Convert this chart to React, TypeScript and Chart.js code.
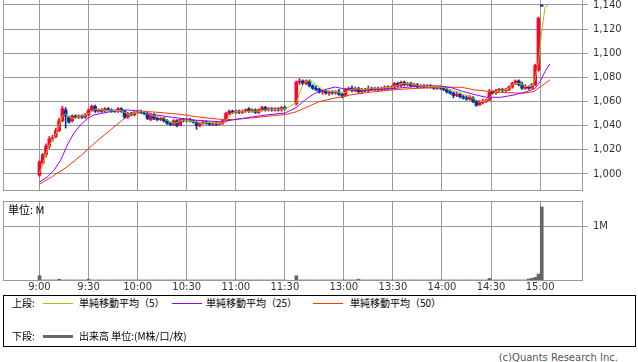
import React, { useEffect, useRef } from "react";
import { Chart, registerables } from "chart.js";

Chart.register(...registerables);

// ---- Axis data ----
// x value = minutes since 9:00 (afternoon session 12:30 placed at 156)
const tickPositions = [0, 30, 60, 90, 120, 150, 186, 216, 246, 276, 306];
const tickLabels = ["9:00", "9:30", "10:00", "10:30", "11:00", "11:30", "13:00", "13:30", "14:00", "14:30", "15:00"];
const priceTicks = [1000, 1020, 1040, 1060, 1080, 1100, 1120, 1140];
const volumeTicks = [1];

// ---- Candles (2-minute steps), morning 9:00-11:30 ----
const amOpen = [
  999, 1009, 1016, 1023, 1029, 1031, 1036, 1044, 1053, 1047,
  1044, 1048, 1047, 1048, 1047, 1049, 1053, 1056, 1052, 1053,
  1052, 1054, 1053, 1052, 1052, 1054, 1052, 1047, 1050, 1049,
  1051, 1052, 1051, 1050, 1045, 1049, 1046, 1045, 1046, 1044,
  1042, 1041, 1044, 1040, 1045, 1044, 1045, 1044, 1043, 1040,
  1042, 1043, 1042, 1041, 1042, 1041, 1042, 1044, 1050, 1052,
  1051, 1052, 1051, 1052, 1054, 1052, 1053, 1051, 1053, 1055,
  1053, 1054, 1053, 1054, 1053, 1055,
];
const amClose = [
  1010, 1016, 1023, 1029, 1030, 1036, 1044, 1054, 1048, 1043,
  1048, 1047, 1048, 1047, 1049, 1053, 1056, 1052, 1053, 1052,
  1054, 1053, 1052, 1052, 1054, 1052, 1047, 1050, 1049, 1051,
  1052, 1051, 1050, 1046, 1049, 1046, 1045, 1046, 1044, 1042,
  1041, 1044, 1040, 1045, 1044, 1045, 1044, 1043, 1040, 1042,
  1043, 1042, 1041, 1042, 1041, 1042, 1044, 1050, 1052, 1051,
  1052, 1051, 1052, 1053, 1052, 1053, 1051, 1053, 1055, 1053,
  1054, 1053, 1054, 1053, 1055, 1054,
];
const amHigh = [
  1011, 1017, 1025, 1031, 1032, 1038, 1046, 1056, 1055, 1048,
  1049, 1049, 1049, 1049, 1050, 1054, 1057, 1057, 1054, 1054,
  1055, 1055, 1054, 1053, 1055, 1055, 1053, 1051, 1051, 1052,
  1053, 1053, 1052, 1051, 1050, 1050, 1047, 1047, 1047, 1045,
  1043, 1045, 1045, 1046, 1046, 1046, 1046, 1045, 1044, 1043,
  1044, 1044, 1043, 1043, 1043, 1043, 1045, 1051, 1053, 1053,
  1053, 1053, 1053, 1054, 1055, 1054, 1054, 1054, 1056, 1056,
  1055, 1055, 1055, 1055, 1056, 1056,
];
const amLow = [
  998, 1008, 1014, 1021, 1027, 1030, 1035, 1043, 1038, 1042,
  1043, 1046, 1046, 1046, 1046, 1048, 1052, 1051, 1051, 1051,
  1051, 1052, 1051, 1051, 1051, 1051, 1046, 1046, 1048, 1048,
  1050, 1050, 1049, 1045, 1044, 1045, 1044, 1044, 1043, 1041,
  1040, 1040, 1039, 1040, 1043, 1043, 1043, 1042, 1037, 1039,
  1041, 1041, 1040, 1040, 1040, 1041, 1041, 1043, 1049, 1050,
  1050, 1050, 1050, 1051, 1051, 1051, 1050, 1050, 1052, 1052,
  1052, 1052, 1052, 1052, 1052, 1053,
];

// ---- Candles, afternoon 12:30-15:00 ----
const pmOpen = [
  1058, 1076, 1077, 1075, 1077, 1073, 1071, 1070, 1068, 1069,
  1067, 1068, 1067, 1068, 1066, 1065, 1070, 1071, 1069, 1071,
  1068, 1070, 1069, 1071, 1070, 1071, 1070, 1071, 1072, 1071,
  1072, 1075, 1073, 1076, 1074, 1075, 1073, 1074, 1072, 1073,
  1072, 1073, 1072, 1071, 1072, 1071, 1070, 1068, 1067, 1065,
  1066, 1064, 1063, 1062, 1063, 1060, 1057, 1059, 1060, 1061,
  1068, 1067, 1069, 1070, 1069, 1070, 1072, 1075, 1077, 1074,
  1071, 1072, 1071, 1074, 1086, 1139,
];
const pmClose = [
  1076, 1077, 1075, 1077, 1073, 1071, 1070, 1068, 1069, 1067,
  1068, 1067, 1068, 1066, 1065, 1070, 1071, 1069, 1071, 1068,
  1070, 1069, 1071, 1070, 1071, 1070, 1071, 1072, 1071, 1072,
  1075, 1073, 1076, 1074, 1075, 1073, 1074, 1072, 1073, 1072,
  1073, 1072, 1071, 1072, 1071, 1070, 1068, 1067, 1065, 1066,
  1064, 1063, 1062, 1064, 1060, 1057, 1059, 1060, 1061, 1068,
  1067, 1069, 1070, 1069, 1070, 1072, 1075, 1077, 1074, 1071,
  1072, 1071, 1074, 1090, 1129, 1139,
];
const pmHigh = [
  1077, 1079, 1078, 1078, 1078, 1074, 1073, 1071, 1070, 1070,
  1069, 1069, 1069, 1070, 1067, 1071, 1072, 1073, 1072, 1072,
  1071, 1071, 1073, 1072, 1072, 1072, 1072, 1073, 1073, 1073,
  1076, 1076, 1077, 1077, 1076, 1076, 1075, 1075, 1074, 1074,
  1074, 1074, 1073, 1073, 1073, 1072, 1071, 1069, 1068, 1068,
  1067, 1065, 1065, 1065, 1064, 1061, 1061, 1062, 1062, 1070,
  1069, 1070, 1071, 1071, 1071, 1073, 1076, 1078, 1078, 1076,
  1074, 1073, 1075, 1091, 1130, 1140,
];
const pmLow = [
  1057, 1074, 1074, 1074, 1072, 1070, 1069, 1067, 1066, 1066,
  1065, 1066, 1066, 1065, 1063, 1064, 1069, 1068, 1068, 1067,
  1067, 1068, 1068, 1069, 1069, 1069, 1069, 1070, 1070, 1070,
  1071, 1072, 1072, 1073, 1073, 1072, 1072, 1071, 1071, 1071,
  1071, 1071, 1070, 1070, 1070, 1069, 1067, 1066, 1063, 1064,
  1063, 1062, 1061, 1061, 1059, 1056, 1057, 1058, 1059, 1061,
  1066, 1066, 1068, 1068, 1068, 1069, 1071, 1074, 1073, 1070,
  1070, 1070, 1071, 1073, 1085, 1139,
];

// ---- Volume (millions), aligned with candles ----
const amVolume = [
  0.08, 0, 0, 0, 0, 0, 0.015, 0, 0, 0,
  0, 0, 0, 0, 0, 0.015, 0, 0, 0, 0,
  0, 0, 0, 0, 0, 0, 0, 0, 0, 0,
  0, 0, 0, 0, 0, 0, 0, 0, 0, 0,
  0, 0, 0, 0, 0, 0, 0, 0, 0, 0,
  0, 0, 0, 0, 0, 0, 0, 0, 0, 0,
  0, 0, 0, 0, 0, 0, 0, 0, 0, 0,
  0, 0, 0, 0, 0, 0,
];
const pmVolume = [
  0.08, 0, 0, 0, 0, 0, 0, 0, 0, 0,
  0, 0, 0, 0, 0, 0, 0, 0, 0, 0.015,
  0, 0, 0, 0, 0, 0, 0, 0, 0, 0,
  0, 0, 0, 0, 0, 0, 0, 0, 0, 0,
  0, 0, 0, 0, 0, 0, 0, 0, 0, 0,
  0, 0, 0, 0, 0, 0, 0, 0, 0, 0.03,
  0, 0, 0, 0, 0, 0, 0, 0, 0, 0,
  0, 0.02, 0.03, 0.05, 0.11, 1.36,
];

// ---- Moving averages ----
const ma5Am = [
  1000.8, 1008, 1017, 1024, 1028, 1033, 1040, 1048, 1049.5, 1047,
  1046, 1046.5, 1047.5, 1048, 1048.5, 1050, 1052, 1053.5, 1053.5, 1053,
  1052.5, 1052.5, 1053, 1052.5, 1052.5, 1052.5, 1051, 1049.5, 1049.5, 1050.5,
  1051.5, 1051.5, 1051.5, 1050, 1049, 1048, 1047.5, 1047, 1046, 1044.5,
  1043, 1042, 1042.5, 1044, 1044.5, 1044.5, 1044, 1043.5, 1043, 1042,
  1042, 1042.5, 1042.5, 1042, 1042, 1042, 1042.5, 1044.5, 1048, 1050.5,
  1051.5, 1051.5, 1051.5, 1051.5, 1052, 1052, 1052, 1052, 1052.5, 1053,
  1053, 1053.5, 1053.5, 1053.5, 1053.5, 1054,
];
const ma5Pm = [
  1059, 1067, 1074, 1077, 1077, 1076, 1074, 1072, 1070, 1069,
  1068.5, 1068, 1068, 1067.5, 1067, 1067.5, 1069, 1070, 1070.5, 1070.5,
  1070, 1070, 1070.5, 1071, 1071, 1071, 1071, 1071.5, 1071.5, 1071.5,
  1072.5, 1073.5, 1074.5, 1075, 1075, 1074.5, 1074, 1073.5, 1073, 1073,
  1072.5, 1072.5, 1072.5, 1072, 1072, 1071.5, 1070.5, 1070, 1069, 1068,
  1067, 1066, 1065, 1064, 1062.5, 1061.3, 1060.5, 1060, 1060.5, 1063,
  1066, 1068, 1069, 1069.5, 1069.5, 1071, 1073.5, 1075, 1075, 1074,
  1072.5, 1072.5, 1073, 1079, 1093, 1118, 1138, 1140,
];
const ma25Times = [0, 5, 9, 13, 17, 21, 25, 29, 33, 38, 46, 54, 58, 63, 69, 78, 86, 94, 102, 110, 118, 127, 139, 150, 157, 162, 168, 176, 181, 186, 192, 202, 212, 222, 233, 243, 251, 259, 267, 273, 282, 290, 298, 303, 306, 309, 312];
const ma25Values = [993.3, 997.7, 1003.3, 1011.6, 1024, 1033.7, 1040.6, 1045.5, 1048.8, 1050.2, 1052.2, 1053, 1052.5, 1051.6, 1049.4, 1047.5, 1046.1, 1044.7, 1043.9, 1043.3, 1044.7, 1046.6, 1048.9, 1050.5, 1055, 1061, 1066.6, 1070.5, 1072, 1070.5, 1069.4, 1069.6, 1070.2, 1071.5, 1072.9, 1072.9, 1071.8, 1068.2, 1065.4, 1063.5, 1063.5, 1065.4, 1068.2, 1071, 1076.5, 1084.8, 1091.2];
const ma50Times = [0, 8, 17, 26, 35, 43, 50, 56, 62, 73, 86, 98, 110, 118, 131, 143, 150, 157, 165, 171, 180, 190, 200, 215, 231, 245, 258, 266, 272, 284, 296, 302, 307, 312];
const ma50Values = [991.5, 998, 1006, 1016, 1027, 1036, 1044, 1050, 1052, 1051, 1049.4, 1047, 1045.3, 1045, 1046.6, 1048.3, 1049.2, 1051.5, 1056.3, 1059.9, 1062.7, 1065.4, 1067.4, 1069.6, 1071, 1071.8, 1071.8, 1069.6, 1068.8, 1067.4, 1066.9, 1068.2, 1072.9, 1078];

// ---- Styles ----
const GRID = "#999999";
const UP = "#ff0033";
const DOWN = "#003399";
const MA5C = "#99cc00";
const MA25C = "#9900ff";
const MA50C = "#ff3300";
const VOLC = "#666666";
const TEXTC = "#333333";
const X_MIN = -22.3;
const X_MAX = 331.6;
const AXIS_FONT = { family: "DejaVu Sans", size: 10 };
const CJK = "'Noto Sans CJK JP', 'Noto Sans', sans-serif";

const framePlugin = {
  id: "frame",
  beforeDatasetsDraw(chart: any, _args: any, opts: any) {
    const { ctx, chartArea: a } = chart;
    ctx.save();
    ctx.strokeStyle = GRID;
    ctx.lineWidth = 1;
    ctx.beginPath();
    const l = Math.round(a.left) + 0.5;
    const t = Math.round(a.top) + 0.5;
    if (opts.left) {
      ctx.moveTo(l, a.top);
      ctx.lineTo(l, a.bottom);
    }
    if (opts.top) {
      ctx.moveTo(a.left, t);
      ctx.lineTo(a.right, t);
    }
    ctx.stroke();
    ctx.restore();
  },
};

function xScale(showLabels: boolean, height: number) {
  return {
    type: "linear",
    min: X_MIN,
    max: X_MAX,
    offset: false,
    afterBuildTicks: (s: any) => {
      s.ticks = tickPositions.map((v) => ({ value: v }));
    },
    ticks: {
      display: showLabels,
      autoSkip: false,
      maxRotation: 0,
      padding: 1,
      font: AXIS_FONT,
      color: TEXTC,
      callback: (v: any) => {
        const i = tickPositions.indexOf(Number(v));
        return i >= 0 ? tickLabels[i] : "";
      },
    },
    grid: { color: GRID, drawTicks: false, offset: false },
    border: { color: GRID },
    afterFit: (s: any) => {
      s.height = height;
      s.paddingLeft = 0;
      s.paddingRight = 0;
    },
  };
}

export default function App() {
  const priceRef = useRef<HTMLCanvasElement>(null);
  const volRef = useRef<HTMLCanvasElement>(null);

  useEffect(() => {
    document.body.style.margin = "0";
    const amTimes = amOpen.map((_, i) => i * 2);
    const pmTimes = pmOpen.map((_, i) => 157 + i * 2);
    const times = [...amTimes, ...pmTimes];
    const open = [...amOpen, ...pmOpen];
    const close = [...amClose, ...pmClose];
    const high = [...amHigh, ...pmHigh];
    const low = [...amLow, ...pmLow];
    const vol = [...amVolume, ...pmVolume];
    const colors = times.map((_, i) => (close[i] > open[i] ? UP : DOWN));
    const ma5Times = [...amTimes, ...ma5Pm.map((_, i) => 157 + i * 2)];
    const ma5 = [...ma5Am, ...ma5Pm];

    const lineDs = (label: string, xs: number[], ys: number[], color: string) => ({
      type: "line",
      label,
      data: xs.map((x, i) => ({ x, y: ys[i] })),
      borderColor: color,
      borderWidth: 1,
      pointRadius: 0,
      pointHoverRadius: 0,
      tension: 0,
      fill: false,
    });

    const price = new Chart(priceRef.current as HTMLCanvasElement, {
      type: "bar",
      data: {
        datasets: [
          lineDs("MA5", ma5Times, ma5, MA5C),
          lineDs("MA25", ma25Times, ma25Values, MA25C),
          lineDs("MA50", ma50Times, ma50Values, MA50C),
          {
            type: "bar",
            label: "body",
            data: times.map((x, i) => ({ x, y: [open[i], close[i]] })),
            backgroundColor: colors,
            borderWidth: 0,
            barThickness: 3,
            minBarLength: 1,
            grouped: false,
          },
          {
            type: "bar",
            label: "wick",
            data: times.map((x, i) => ({ x, y: [low[i], high[i]] })),
            backgroundColor: colors,
            borderWidth: 0,
            barThickness: 1,
            grouped: false,
          },
        ] as any,
      },
      options: {
        responsive: false,
        animation: false,
        devicePixelRatio: 1,
        events: [],
        layout: { padding: { left: 3, top: 0, right: 0, bottom: 0 } },
        plugins: {
          legend: { display: false },
          tooltip: { enabled: false },
          frame: { left: true, top: false },
        } as any,
        scales: {
          x: xScale(false, 5) as any,
          y: {
            position: "right",
            min: 986.7,
            max: 1144.1,
            afterBuildTicks: (s: any) => {
              s.ticks = priceTicks.map((v) => ({ value: v }));
            },
            ticks: {
              font: AXIS_FONT,
              color: TEXTC,
              padding: 5,
              callback: (v: any) => Number(v).toLocaleString("en-US"),
            },
            grid: { color: GRID, tickLength: 6 },
            border: { color: GRID },
            afterFit: (s: any) => {
              s.width = 56;
              s.paddingTop = 0;
              s.paddingBottom = 0;
            },
          } as any,
        },
      },
      plugins: [framePlugin as any],
    });

    const volume = new Chart(volRef.current as HTMLCanvasElement, {
      type: "bar",
      data: {
        datasets: [
          {
            label: "volume",
            data: times.map((x, i) => ({ x, y: vol[i] })),
            backgroundColor: VOLC,
            borderWidth: 0,
            barThickness: 3,
            grouped: false,
          },
        ] as any,
      },
      options: {
        responsive: false,
        animation: false,
        devicePixelRatio: 1,
        events: [],
        layout: { padding: { left: 3, top: 6, right: 0, bottom: 0 } },
        plugins: {
          legend: { display: false },
          tooltip: { enabled: false },
          frame: { left: true, top: true },
        } as any,
        scales: {
          x: xScale(true, 15) as any,
          y: {
            position: "right",
            min: 0,
            max: 1.471,
            afterBuildTicks: (s: any) => {
              s.ticks = volumeTicks.map((v) => ({ value: v }));
            },
            ticks: {
              font: AXIS_FONT,
              color: TEXTC,
              padding: 5,
              callback: (v: any) => `${v}M`,
            },
            grid: { color: GRID, tickLength: 6 },
            border: { color: GRID },
            afterFit: (s: any) => {
              s.width = 56;
              s.paddingTop = 0;
              s.paddingBottom = 0;
            },
          } as any,
        },
      },
      plugins: [framePlugin as any],
    });

    return () => {
      price.destroy();
      volume.destroy();
    };
  }, []);

  const txt = (left: number, cy: number, s: string, size = 10, extra: any = {}) => (
    <div
      style={{
        position: "absolute",
        left,
        top: cy - 7,
        height: 14,
        lineHeight: "14px",
        fontSize: size,
        fontFamily: CJK,
        color: "#000",
        whiteSpace: "nowrap",
        ...extra,
      }}
    >
      {s}
    </div>
  );
  const swatch = (left: number, cy: number, color: string, h = 1) => (
    <div style={{ position: "absolute", left, top: cy - Math.floor(h / 2), width: 30, height: h, background: color }} />
  );

  return (
    <div style={{ position: "relative", width: 638, height: 362, background: "#fff", overflow: "hidden" }}>
      <canvas ref={priceRef} width={638} height={195} style={{ position: "absolute", left: 0, top: 0 }} />
      <canvas ref={volRef} width={638} height={100} style={{ position: "absolute", left: 0, top: 195 }} />
      {txt(8, 209, "単位: M", 11)}
      <div
        style={{
          position: "absolute",
          left: 3,
          top: 295,
          width: 633,
          height: 52,
          boxSizing: "border-box",
          border: "1px solid #000",
        }}
      />
      {txt(12, 303, "上段:")}
      {swatch(43, 303, MA5C)}
      {txt(79, 303, "単純移動平均（5）")}
      {swatch(172, 303, MA25C)}
      {txt(206, 303, "単純移動平均（25）")}
      {swatch(313, 303, MA50C)}
      {txt(350, 303, "単純移動平均（50）")}
      {txt(12, 336, "下段:")}
      {swatch(43, 336, VOLC, 3)}
      {txt(79, 336, "出来高 単位:(M株/口/枚)")}
      <div
        style={{
          position: "absolute",
          right: 20,
          top: 351,
          lineHeight: "14px",
          fontSize: 10,
          fontFamily: "'DejaVu Sans', sans-serif",
          color: "#555",
          whiteSpace: "nowrap",
        }}
      >
        (c)Quants Research Inc.
      </div>
    </div>
  );
}
